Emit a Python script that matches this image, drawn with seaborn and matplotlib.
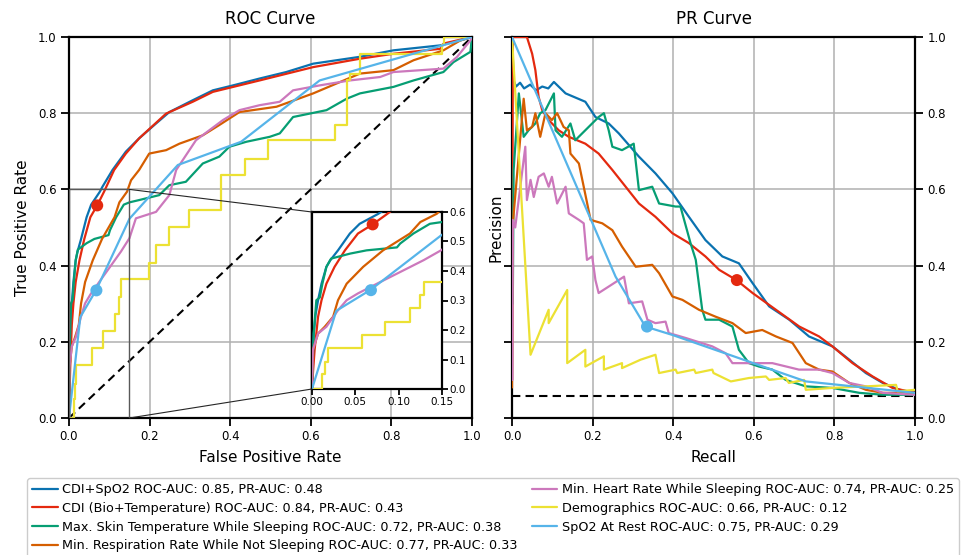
import numpy as np
import pandas as pd
import matplotlib
matplotlib.use("Agg")
import matplotlib.pyplot as plt
import seaborn as sns
from matplotlib.patches import Rectangle, ConnectionPatch

# ---------------- data ----------------
labels = [
    "CDI+SpO2 ROC-AUC: 0.85, PR-AUC: 0.48",
    "CDI (Bio+Temperature) ROC-AUC: 0.84, PR-AUC: 0.43",
    "Max. Skin Temperature While Sleeping ROC-AUC: 0.72, PR-AUC: 0.38",
    "Min. Respiration Rate While Not Sleeping ROC-AUC: 0.77, PR-AUC: 0.33",
    "Min. Heart Rate While Sleeping ROC-AUC: 0.74, PR-AUC: 0.25",
    "Demographics ROC-AUC: 0.66, PR-AUC: 0.12",
    "SpO2 At Rest ROC-AUC: 0.75, PR-AUC: 0.29",
]
colors = ["#0a72b0", "#e4290f", "#069e73", "#d55e00", "#cc78bc", "#ece133", "#56b4e9"]

# ROC curves
roc_fpr_cdi_spo2 = [0, 0.001, 0.002, 0.004, 0.007, 0.011, 0.0166, 0.021, 0.030, 0.0437, 0.055, 0.0766, 0.083,
                    0.108, 0.141, 0.174, 0.216, 0.249, 0.307, 0.357, 0.407, 0.473, 0.539, 0.606, 0.722, 0.805,
                    0.921, 0.971, 1.0]
roc_tpr_cdi_spo2 = [0, 0.08, 0.188, 0.25, 0.301, 0.357, 0.414, 0.436, 0.47, 0.527, 0.56, 0.594, 0.607,
                    0.651, 0.699, 0.734, 0.773, 0.803, 0.834, 0.86, 0.873, 0.891, 0.908, 0.93, 0.948, 0.965,
                    0.978, 0.991, 1.0]
roc_fpr_cdi = [0, 0.001, 0.003, 0.007, 0.011, 0.0166, 0.026, 0.038, 0.053, 0.07, 0.087, 0.112, 0.141, 0.174,
               0.241, 0.307, 0.357, 0.473, 0.606, 0.722, 0.805, 0.921, 0.93, 1.0]
roc_tpr_cdi = [0, 0.05, 0.132, 0.245, 0.301, 0.357, 0.414, 0.47, 0.527, 0.558, 0.594, 0.651, 0.694, 0.734,
               0.799, 0.83, 0.856, 0.886, 0.921, 0.943, 0.956, 0.969, 0.983, 1.0]
roc_fpr_skin = [0, 0.001, 0.002, 0.005, 0.009, 0.012, 0.0166, 0.022, 0.044, 0.063, 0.098, 0.1017, 0.117, 0.136,
                0.15, 0.174, 0.224, 0.249, 0.29, 0.332, 0.373, 0.398, 0.44, 0.498, 0.523, 0.556, 0.639, 0.689,
                0.722, 0.805, 0.855, 0.929, 0.954, 0.996, 1.0]
roc_tpr_skin = [0, 0.1, 0.188, 0.301, 0.31, 0.357, 0.414, 0.442, 0.459, 0.47, 0.48, 0.493, 0.527, 0.56,
                0.566, 0.572, 0.585, 0.611, 0.62, 0.668, 0.686, 0.712, 0.725, 0.738, 0.747, 0.79, 0.808, 0.838,
                0.852, 0.869, 0.886, 0.908, 0.934, 0.961, 1.0]
roc_fpr_resp = [0, 0.001, 0.007, 0.0147, 0.0244, 0.030, 0.040, 0.059, 0.082, 0.113, 0.125, 0.144, 0.154, 0.174,
                0.199, 0.241, 0.274, 0.332, 0.373, 0.423, 0.515, 0.606, 0.664, 0.722, 0.805, 0.855, 0.929,
                0.971, 1.0]
roc_tpr_resp = [0, 0.132, 0.188, 0.211, 0.245, 0.301, 0.357, 0.414, 0.47, 0.527, 0.566, 0.594, 0.624, 0.651,
                0.694, 0.703, 0.72, 0.742, 0.769, 0.803, 0.817, 0.852, 0.878, 0.904, 0.913, 0.939, 0.965,
                0.991, 1.0]
roc_fpr_hr = [0, 0.001, 0.007, 0.0166, 0.030, 0.040, 0.053, 0.075, 0.098, 0.129, 0.15, 0.166, 0.216, 0.249,
              0.266, 0.315, 0.382, 0.423, 0.473, 0.523, 0.556, 0.622, 0.697, 0.772, 0.805, 0.929, 0.963,
              0.996, 1.0]
roc_tpr_hr = [0, 0.132, 0.188, 0.211, 0.267, 0.301, 0.324, 0.357, 0.391, 0.437, 0.472, 0.524, 0.541, 0.585,
              0.651, 0.729, 0.782, 0.808, 0.821, 0.83, 0.86, 0.873, 0.886, 0.895, 0.908, 0.917, 0.948,
              0.991, 1.0]
roc_fpr_demo = [0, 0.0116, 0.0116, 0.0147, 0.0147, 0.0186, 0.0186, 0.058, 0.058, 0.084, 0.084, 0.113, 0.113,
                0.125, 0.125, 0.129, 0.129, 0.199, 0.199, 0.216, 0.216, 0.249, 0.249, 0.299, 0.299, 0.378,
                0.378, 0.436, 0.436, 0.494, 0.494, 0.66, 0.66, 0.689, 0.689, 0.697, 0.697, 0.722, 0.722,
                0.925, 0.925, 0.93, 0.93, 1.0]
roc_tpr_demo = [0, 0, 0.05, 0.05, 0.09, 0.09, 0.138, 0.138, 0.183, 0.183, 0.228, 0.228, 0.273,
                0.273, 0.318, 0.318, 0.364, 0.364, 0.406, 0.406, 0.454, 0.454, 0.502, 0.502, 0.546, 0.546,
                0.638, 0.638, 0.681, 0.681, 0.729, 0.729, 0.769, 0.769, 0.886, 0.886, 0.904, 0.904, 0.956,
                0.956, 0.978, 0.978, 1.0, 1.0]
roc_fpr_spo2 = [0, 0.028, 0.068, 0.15, 0.27, 0.427, 0.622, 1.0]
roc_tpr_spo2 = [0, 0.265, 0.337, 0.523, 0.664, 0.725, 0.886, 1.0]

# PR curves
pr_rec_cdi_spo2 = [0, 0.002, 0.004, 0.01, 0.02, 0.03, 0.045, 0.06, 0.075, 0.09, 0.104, 0.133, 0.182, 0.207,
                   0.24, 0.265, 0.315, 0.356, 0.398, 0.439, 0.48, 0.522, 0.563, 0.597, 0.638, 0.688, 0.737,
                   0.795, 0.837, 0.878, 0.92, 0.961, 1.0]
pr_prec_cdi_spo2 = [1.0, 0.95, 0.886, 0.87, 0.88, 0.865, 0.875, 0.86, 0.87, 0.865, 0.882, 0.852, 0.83, 0.79,
                    0.773, 0.747, 0.686, 0.642, 0.59, 0.528, 0.467, 0.424, 0.406, 0.354, 0.293, 0.258, 0.214,
                    0.188, 0.153, 0.118, 0.092, 0.074, 0.066]
pr_rec_cdi = [0, 0.001, 0.002, 0.037, 0.05, 0.058, 0.066, 0.075, 0.091, 0.116, 0.141, 0.182, 0.215, 0.249,
              0.282, 0.315, 0.356, 0.398, 0.439, 0.48, 0.514, 0.557, 0.597, 0.655, 0.713, 0.762, 0.795, 0.845,
              0.895, 0.944, 1.0]
pr_prec_cdi = [0.1, 0.5, 1.0, 1.0, 0.956, 0.913, 0.843, 0.808, 0.782, 0.755, 0.738, 0.72, 0.694, 0.651,
               0.607, 0.563, 0.528, 0.485, 0.459, 0.424, 0.389, 0.362, 0.328, 0.284, 0.24, 0.214, 0.188, 0.144,
               0.109, 0.079, 0.066]
pr_rec_skin = [0.002, 0.004, 0.017, 0.029, 0.041, 0.058, 0.07, 0.083, 0.104, 0.108, 0.124, 0.145, 0.157, 0.215,
               0.228, 0.24, 0.249, 0.273, 0.302, 0.315, 0.348, 0.365, 0.406, 0.418, 0.443, 0.456, 0.472, 0.48,
               0.514, 0.547, 0.563, 0.588, 0.613, 0.646, 0.679, 0.729, 0.795, 0.862, 0.92, 1.0]
pr_prec_skin = [0.3, 0.65, 0.852, 0.738, 0.755, 0.773, 0.8, 0.808, 0.852, 0.755, 0.738, 0.773, 0.729, 0.79,
                0.8, 0.755, 0.712, 0.703, 0.72, 0.598, 0.607, 0.563, 0.555, 0.555, 0.459, 0.415, 0.284, 0.258,
                0.258, 0.24, 0.179, 0.144, 0.135, 0.127, 0.1, 0.083, 0.079, 0.066, 0.061, 0.061]
pr_rec_resp = [0.0, 0.002, 0.029, 0.037, 0.05, 0.058, 0.07, 0.083, 0.099, 0.112, 0.128, 0.141, 0.145, 0.166,
               0.178, 0.195, 0.224, 0.249, 0.273, 0.307, 0.348, 0.365, 0.398, 0.423, 0.464, 0.505, 0.547, 0.58,
               0.621, 0.655, 0.696, 0.729, 0.762, 0.795, 0.837, 0.878, 0.92, 1.0]
pr_prec_resp = [0.08, 0.51, 0.838, 0.755, 0.764, 0.8, 0.738, 0.8, 0.782, 0.8, 0.764, 0.755, 0.694, 0.668,
                0.607, 0.52, 0.511, 0.493, 0.45, 0.397, 0.402, 0.38, 0.319, 0.31, 0.284, 0.266, 0.249, 0.223,
                0.231, 0.214, 0.197, 0.144, 0.127, 0.122, 0.092, 0.074, 0.066, 0.066]
pr_rec_hr = [0.001, 0.002, 0.008, 0.033, 0.037, 0.046, 0.054, 0.066, 0.079, 0.091, 0.099, 0.112, 0.133, 0.141,
             0.166, 0.178, 0.186, 0.199, 0.207, 0.215, 0.24, 0.278, 0.29, 0.323, 0.336, 0.356, 0.381, 0.389,
             0.431, 0.497, 0.53, 0.547, 0.597, 0.646, 0.712, 0.762, 0.795, 0.837, 0.878, 0.92, 1.0]
pr_prec_hr = [0.1, 0.52, 0.5, 0.712, 0.572, 0.625, 0.58, 0.633, 0.642, 0.607, 0.633, 0.563, 0.607, 0.537,
              0.52, 0.511, 0.415, 0.424, 0.362, 0.328, 0.345, 0.371, 0.301, 0.306, 0.258, 0.249, 0.253, 0.223,
              0.21, 0.188, 0.17, 0.144, 0.144, 0.144, 0.127, 0.127, 0.118, 0.092, 0.083, 0.066, 0.061]
pr_rec_demo = [0, 0.046, 0.091, 0.091, 0.137, 0.137, 0.182, 0.182, 0.228, 0.228, 0.273, 0.273, 0.319, 0.356,
               0.365, 0.406, 0.41, 0.452, 0.456, 0.497, 0.5, 0.543, 0.588, 0.63, 0.638, 0.679, 0.687, 0.725,
               0.729, 0.795, 0.878, 0.953, 0.957, 1.0]
pr_prec_demo = [1.0, 0.166, 0.284, 0.249, 0.336, 0.144, 0.179, 0.135, 0.162, 0.127, 0.144, 0.131, 0.153, 0.166,
                0.118, 0.127, 0.118, 0.127, 0.118, 0.127, 0.118, 0.096, 0.105, 0.109, 0.1, 0.105, 0.092, 0.1,
                0.074, 0.079, 0.083, 0.087, 0.07, 0.074]
pr_rec_spo2 = [0, 0.257, 0.331, 0.398, 0.729, 1.0]
pr_prec_spo2 = [1.0, 0.371, 0.24, 0.218, 0.096, 0.066]

# operating points (red = CDI, light blue = SpO2 At Rest)
op_fpr = [0.07, 0.068]
op_tpr = [0.558, 0.335]
op_prec = [0.362, 0.24]
op_colors = ["#e4290f", "#56b4e9"]

chance_x = [0, 1]
chance_y = [0, 1]
prevalence = 0.059

zoom_x = (0.0, 0.15)
zoom_y = (0.0, 0.6)

roc_x = [roc_fpr_cdi_spo2, roc_fpr_cdi, roc_fpr_skin, roc_fpr_resp, roc_fpr_hr, roc_fpr_demo, roc_fpr_spo2]
roc_y = [roc_tpr_cdi_spo2, roc_tpr_cdi, roc_tpr_skin, roc_tpr_resp, roc_tpr_hr, roc_tpr_demo, roc_tpr_spo2]
pr_x = [pr_rec_cdi_spo2, pr_rec_cdi, pr_rec_skin, pr_rec_resp, pr_rec_hr, pr_rec_demo, pr_rec_spo2]
pr_y = [pr_prec_cdi_spo2, pr_prec_cdi, pr_prec_skin, pr_prec_resp, pr_prec_hr, pr_prec_demo, pr_prec_spo2]

# ---------------- style ----------------
sns.set_theme(style="ticks")
plt.rcParams.update({
    "font.family": ["DejaVu Sans"],
    "axes.edgecolor": "black",
    "axes.linewidth": 1.6,
    "xtick.major.width": 1.3,
    "ytick.major.width": 1.3,
    "xtick.major.size": 5.5,
    "ytick.major.size": 5.5,
    "xtick.color": "black",
    "ytick.color": "black",
    "xtick.labelsize": 8.5,
    "ytick.labelsize": 8.5,
    "axes.labelsize": 11,
    "axes.titlesize": 12,
    "text.color": "black",
    "axes.labelcolor": "black",
})

W, H = 963, 555
fig = plt.figure(figsize=(W / 100, H / 100), dpi=100)


def fbox(x0, y0, x1, y1):
    return [x0 / W, 1 - y1 / H, (x1 - x0) / W, (y1 - y0) / H]


ax_roc = fig.add_axes(fbox(69, 37, 472, 418))
ax_pr = fig.add_axes(fbox(512, 37, 915, 418))
ax_in = fig.add_axes(fbox(312, 212, 442, 389))

LW = 1.6
handles = []
for i in range(len(labels)):
    df = pd.DataFrame({"x": roc_x[i], "y": roc_y[i]})
    sns.lineplot(data=df, x="x", y="y", ax=ax_roc, color=colors[i], lw=LW, sort=False,
                 estimator=None, legend=False, zorder=3)
    handles.append(ax_roc.lines[-1])
    sns.lineplot(data=df, x="x", y="y", ax=ax_in, color=colors[i], lw=LW, sort=False,
                 estimator=None, legend=False, zorder=3)
    dfp = pd.DataFrame({"x": pr_x[i], "y": pr_y[i]})
    sns.lineplot(data=dfp, x="x", y="y", ax=ax_pr, color=colors[i], lw=LW, sort=False,
                 estimator=None, legend=False, zorder=3)

# chance lines
sns.lineplot(x=chance_x, y=chance_y, ax=ax_roc, color="black", lw=1.5, linestyle="--", zorder=2)
ax_roc.lines[-1].set_dashes([4, 2.5])
sns.lineplot(x=chance_x, y=[prevalence, prevalence], ax=ax_pr, color="black", lw=1.5, linestyle="--", zorder=2)
ax_pr.lines[-1].set_dashes([4, 2.5])

# operating points
for a in (ax_roc, ax_in):
    sns.scatterplot(x=op_fpr, y=op_tpr, ax=a, hue=[0, 1], palette=op_colors, s=75,
                    edgecolor="none", legend=False, zorder=5)
sns.scatterplot(x=op_tpr, y=op_prec, ax=ax_pr, hue=[0, 1], palette=op_colors, s=75,
                edgecolor="none", legend=False, zorder=5)

ticks = [0.0, 0.2, 0.4, 0.6, 0.8, 1.0]
for a in (ax_roc, ax_pr):
    a.set_xlim(0, 1)
    a.set_ylim(0, 1)
    a.set_xticks(ticks)
    a.set_yticks(ticks)
    a.grid(True, color="#b0b0b0", lw=1.1, zorder=0)
    a.set_axisbelow(True)

ax_roc.set_title("ROC Curve", pad=9)
ax_roc.set_xlabel("False Positive Rate", labelpad=5)
ax_roc.set_ylabel("True Positive Rate", labelpad=6)
ax_pr.set_title("PR Curve", pad=9)
ax_pr.set_xlabel("Recall", labelpad=5)
ax_pr.set_ylabel("Precision", labelpad=0.5)
ax_pr.tick_params(axis="y", left=True, right=True, labelleft=False, labelright=True)

# inset
ax_in.set_xlim(*zoom_x)
ax_in.set_ylim(*zoom_y)
ax_in.set_xticks([0.0, 0.05, 0.10, 0.15])
ax_in.set_xticklabels(["0.00", "0.05", "0.10", "0.15"])
ax_in.set_yticks([0.0, 0.1, 0.2, 0.3, 0.4, 0.5, 0.6])
ax_in.tick_params(axis="y", left=False, right=True, labelleft=False, labelright=True, labelsize=7.5,
                  length=4, pad=1.5)
ax_in.tick_params(axis="x", labelsize=7.5, length=4, pad=2)
ax_in.set_xlabel("")
ax_in.set_ylabel("")
ax_in.set_facecolor("white")

# zoom indicator
rect = Rectangle((zoom_x[0], zoom_y[0]), zoom_x[1] - zoom_x[0], zoom_y[1] - zoom_y[0], fill=False,
                 edgecolor="0.35", lw=1.0, zorder=4)
ax_roc.add_patch(rect)
for (xa, ya), (xb, yb) in [((0, 1), (zoom_x[1], zoom_y[1])), ((0, 0), (zoom_x[1], zoom_y[0]))]:
    con = ConnectionPatch(xyA=(xa, ya), coordsA=ax_in.transAxes, xyB=(xb, yb), coordsB=ax_roc.transData,
                          color="0.15", lw=0.8)
    fig.add_artist(con)

fig.legend(handles, labels, loc="upper left", bbox_to_anchor=(27 / W, 1 - 478 / H), ncol=2,
           fontsize=9.2, handlelength=2.0, handletextpad=0.35, columnspacing=1.1, labelspacing=0.45,
           borderpad=0.4, borderaxespad=0, frameon=True, edgecolor="#cccccc", fancybox=True,
           framealpha=1)

fig.savefig("out.png", dpi=100)
